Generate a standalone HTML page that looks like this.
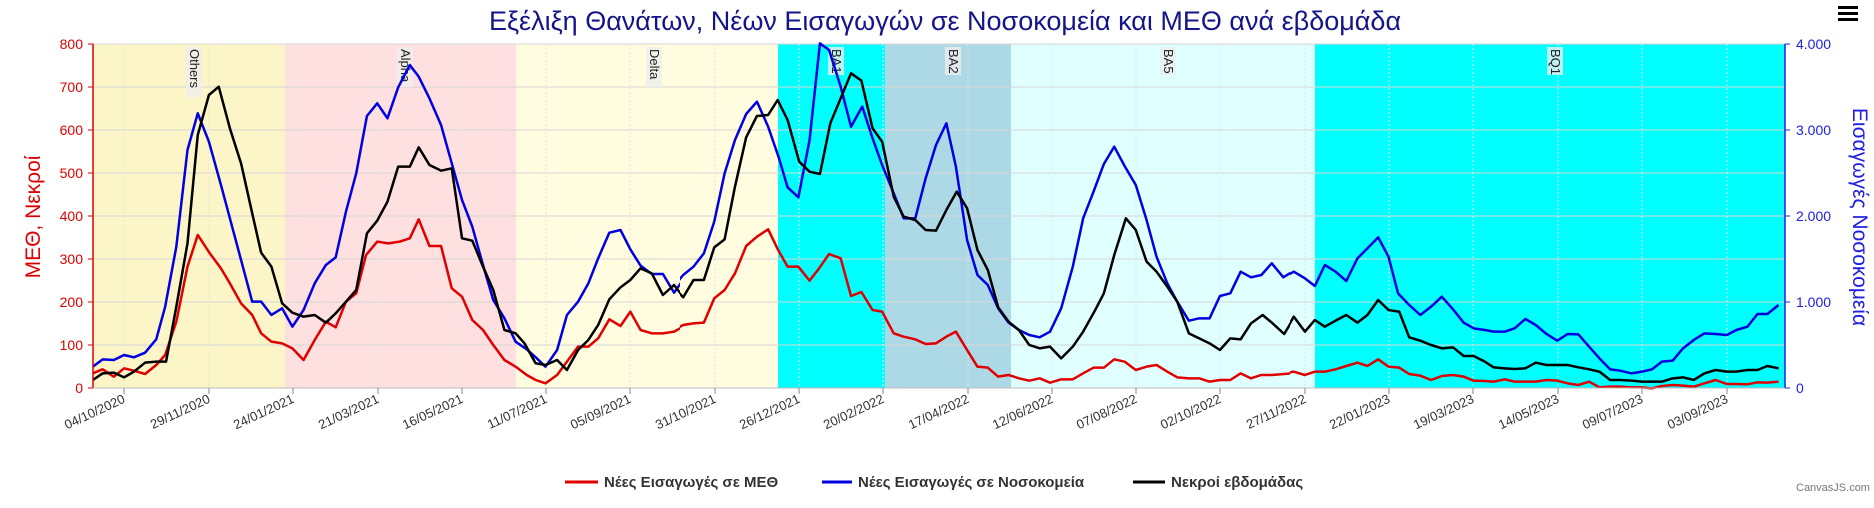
<!DOCTYPE html>
<html><head><meta charset="utf-8"><style>
body{margin:0;background:#fff;width:1874px;height:503px;overflow:hidden;font-family:"Liberation Sans","DejaVu Sans",sans-serif}
</style></head><body>
<svg width="1874" height="503" xmlns="http://www.w3.org/2000/svg" font-family="Liberation Sans, DejaVu Sans, sans-serif">
<defs>
<clipPath id="c1"><rect x="90" y="30" width="590" height="370"/></clipPath>
<clipPath id="c2"><rect x="680" y="30" width="610" height="370"/></clipPath>
<clipPath id="c3"><rect x="1290" y="30" width="500" height="370"/></clipPath>
</defs>
<text x="945" y="30" text-anchor="middle" font-size="27" fill="#15158a">Εξέλιξη Θανάτων, Νέων Εισαγωγών σε Νοσοκομεία και ΜΕΘ ανά εβδομάδα</text>
<g fill="#000"><rect x="1838" y="6" width="20" height="3"/><rect x="1838" y="12" width="20" height="3"/><rect x="1838" y="18" width="20" height="3"/></g>
<!-- bands -->
<rect x="93" y="44" width="192" height="344" fill="#fcf5c8"/>
<rect x="285" y="44" width="231" height="344" fill="#ffe0e0"/>
<rect x="516" y="44" width="262" height="344" fill="#fffce0"/>
<rect x="778" y="44" width="107" height="344" fill="#00ffff"/>
<rect x="885" y="44" width="126" height="344" fill="#add8e6"/>
<rect x="1011" y="44" width="304" height="344" fill="#e0ffff"/>
<rect x="1315" y="44" width="470" height="344" fill="#00ffff"/>
<!-- grid -->
<g stroke="#d6d6d6" stroke-width="1">
<line x1="93" x2="1785" y1="44" y2="44"/><line x1="93" x2="1785" y1="87" y2="87"/><line x1="93" x2="1785" y1="130" y2="130"/><line x1="93" x2="1785" y1="173" y2="173"/><line x1="93" x2="1785" y1="216" y2="216"/><line x1="93" x2="1785" y1="259" y2="259"/><line x1="93" x2="1785" y1="302" y2="302"/><line x1="93" x2="1785" y1="345" y2="345"/>
</g>
<g stroke="#e4e4e4" stroke-width="1" stroke-dasharray="2,2">
<line x1="124" x2="124" y1="44" y2="388"/><line x1="209" x2="209" y1="44" y2="388"/><line x1="293" x2="293" y1="44" y2="388"/><line x1="378" x2="378" y1="44" y2="388"/><line x1="462" x2="462" y1="44" y2="388"/><line x1="546" x2="546" y1="44" y2="388"/><line x1="630" x2="630" y1="44" y2="388"/><line x1="715" x2="715" y1="44" y2="388"/><line x1="799" x2="799" y1="44" y2="388"/><line x1="883" x2="883" y1="44" y2="388"/><line x1="968" x2="968" y1="44" y2="388"/><line x1="1052" x2="1052" y1="44" y2="388"/><line x1="1136" x2="1136" y1="44" y2="388"/><line x1="1220" x2="1220" y1="44" y2="388"/><line x1="1305" x2="1305" y1="44" y2="388"/><line x1="1389" x2="1389" y1="44" y2="388"/><line x1="1473" x2="1473" y1="44" y2="388"/><line x1="1558" x2="1558" y1="44" y2="388"/><line x1="1642" x2="1642" y1="44" y2="388"/><line x1="1727" x2="1727" y1="44" y2="388"/>
</g>
<!-- band labels -->
<g font-size="13" fill="#222">
<g transform="translate(190,48) rotate(90)"><rect x="-1" y="-12" width="50" height="16" fill="#eee" opacity="0.8"/><text x="1" y="0">Others</text></g>
<g transform="translate(401,48) rotate(90)"><rect x="-1" y="-12" width="40" height="16" fill="#eee" opacity="0.8"/><text x="1" y="0">Alpha</text></g>
<g transform="translate(650,48) rotate(90)"><rect x="-1" y="-12" width="40" height="16" fill="#eee" opacity="0.8"/><text x="1" y="0">Delta</text></g>
<g transform="translate(832,48) rotate(90)"><rect x="-1" y="-12" width="28" height="16" fill="#eee" opacity="0.8"/><text x="1" y="0">BA1</text></g>
<g transform="translate(949,48) rotate(90)"><rect x="-1" y="-12" width="28" height="16" fill="#eee" opacity="0.8"/><text x="1" y="0">BA2</text></g>
<g transform="translate(1164,48) rotate(90)"><rect x="-1" y="-12" width="28" height="16" fill="#eee" opacity="0.8"/><text x="1" y="0">BA5</text></g>
<g transform="translate(1551,48) rotate(90)"><rect x="-1" y="-12" width="28" height="16" fill="#eee" opacity="0.8"/><text x="1" y="0">BQ1</text></g>
</g>
<!-- series -->
<g fill="none" stroke-width="2.5" stroke-linejoin="round">
<g clip-path="url(#c1)"><g transform="scale(0.4464,0.33333)">
<polyline vector-effect="non-scaling-stroke" stroke="#e00000" points="208,1120 230,1108 255,1130 278,1105 300,1112 325,1122 350,1095 370,1065 395,965 420,800 443,705 470,760 495,805 515,850 540,910 565,945 585,1000 608,1025 632,1030 655,1045 680,1080 705,1020 730,965 752,982 775,905 798,880 820,765 845,725 870,730 895,725 918,715 938,658 962,738 988,738 1012,865 1035,890 1058,960 1082,990 1105,1035 1130,1080 1155,1100 1180,1125 1200,1140 1222,1150 1248,1125 1270,1085 1295,1040 1318,1040 1340,1015 1365,958 1390,978 1412,935 1435,990 1460,1000 1485,1000 1510,995 1530,980 1568,970"/>
<polyline vector-effect="non-scaling-stroke" stroke="#0000e0" points="208,1100 230,1078 255,1080 278,1065 300,1072 325,1058 350,1018 370,920 395,740 420,450 443,340 468,425 495,555 520,680 545,805 565,905 585,905 608,945 632,925 655,980 680,930 705,850 730,795 752,772 775,635 798,520 822,348 845,310 868,355 892,262 918,195 938,230 962,295 988,375 1012,490 1035,600 1058,680 1082,795 1105,900 1130,955 1155,1025 1180,1048 1200,1072 1222,1100 1248,1050 1270,945 1295,905 1318,850 1340,775 1365,698 1390,690 1412,748 1435,797 1460,822 1485,822 1510,878 1530,840 1568,768"/>
<polyline vector-effect="non-scaling-stroke" stroke="#000" points="208,1140 230,1120 255,1118 278,1132 300,1115 325,1088 350,1085 372,1085 395,920 420,730 443,405 468,285 490,260 515,385 540,490 565,640 585,758 608,800 632,910 655,938 680,950 705,945 730,968 752,940 775,905 798,870 822,700 845,662 868,605 892,500 918,500 938,442 962,495 988,512 1012,505 1035,715 1058,722 1082,800 1105,870 1130,990 1155,1000 1175,1030 1200,1090 1222,1095 1248,1080 1270,1110 1295,1050 1318,1020 1340,975 1365,898 1390,862 1412,840 1435,805 1460,820 1485,885 1510,855 1530,890 1568,840"/>
</g></g>
<g clip-path="url(#c2)"><g transform="translate(650,0) scale(0.4145,0.33333)">
<polyline vector-effect="non-scaling-stroke" stroke="#e00000" points="0,1000 25,1000 50,995 80,975 105,970 130,968 155,895 180,870 205,820 232,738 258,710 285,688 310,752 332,800 358,800 385,842 408,805 432,762 460,775 485,888 510,876 537,930 560,935 588,1000 612,1010 640,1018 665,1032 690,1030 715,1010 738,995 765,1050 790,1100 815,1103 840,1130 865,1125 890,1135 915,1142 940,1135 965,1148 992,1138 1020,1138 1045,1120 1070,1103 1095,1103 1120,1078 1145,1085 1172,1110 1198,1100 1222,1095 1248,1115 1272,1132 1300,1135 1325,1135 1350,1145 1375,1140 1400,1140 1425,1120 1450,1135 1475,1125 1500,1125 1530,1122 1568,1118"/>
<polyline vector-effect="non-scaling-stroke" stroke="#0000e0" points="0,820 25,820 55,862 80,825 105,800 130,760 155,665 180,520 205,420 232,342 258,305 285,380 310,470 332,562 358,592 385,420 410,130 432,150 460,260 485,380 512,320 537,415 560,495 588,580 612,655 640,655 665,535 690,435 715,370 738,500 765,720 790,825 815,855 840,925 865,968 890,990 915,1005 940,1012 965,995 992,925 1020,800 1045,655 1070,575 1095,492 1120,440 1145,498 1172,555 1198,660 1222,770 1248,850 1272,905 1300,962 1325,955 1350,955 1375,888 1400,880 1425,815 1450,832 1475,825 1500,790 1528,832 1550,815 1568,825"/>
<polyline vector-effect="non-scaling-stroke" stroke="#000" points="0,825 28,885 55,858 80,892 105,840 130,840 155,742 180,718 205,560 232,412 258,348 285,345 308,300 332,360 360,485 385,515 410,522 435,370 460,295 485,220 510,242 537,385 560,425 588,590 612,650 640,660 665,690 690,692 715,630 740,575 765,625 790,750 815,810 840,922 865,965 890,990 915,1035 940,1045 965,1040 992,1075 1020,1040 1045,995 1072,935 1095,880 1120,765 1148,655 1172,690 1198,785 1222,815 1248,860 1272,905 1300,1000 1325,1015 1350,1030 1375,1050 1400,1015 1425,1018 1450,970 1478,945 1502,970 1530,1002 1555,950 1568,965"/>
</g></g>
<g clip-path="url(#c3)"><g transform="translate(1250,0) scale(0.398,0.33333)">
<polyline vector-effect="non-scaling-stroke" stroke="#e00000" points="0,1130 30,1122 58,1122 85,1120 110,1115 138,1125 163,1115 188,1115 215,1108 242,1098 270,1088 295,1098 322,1078 348,1100 375,1103 400,1122 428,1127 455,1140 482,1128 510,1125 537,1130 562,1142 590,1143 612,1145 640,1138 665,1145 692,1145 718,1145 745,1140 772,1142 798,1150 825,1155 852,1145 878,1162 905,1160 930,1160 958,1162 985,1162 1010,1165 1035,1158 1062,1155 1088,1157 1115,1160 1142,1150 1170,1140 1198,1152 1222,1152 1250,1153 1275,1147 1300,1148 1328,1145"/>
<polyline vector-effect="non-scaling-stroke" stroke="#0000e0" points="0,828 30,822 55,790 85,832 110,815 138,835 163,858 188,795 215,815 242,843 270,775 295,745 322,712 348,770 372,880 400,915 428,945 455,920 482,890 510,928 537,968 562,985 590,990 612,995 640,995 665,985 692,957 718,975 745,1002 772,1022 798,1002 825,1003 852,1040 878,1075 905,1108 930,1112 958,1120 985,1115 1010,1108 1035,1085 1062,1082 1088,1045 1115,1020 1142,1000 1170,1002 1198,1005 1222,990 1250,980 1275,942 1300,942 1328,915"/>
<polyline vector-effect="non-scaling-stroke" stroke="#000" points="0,980 30,948 58,975 85,1002 110,950 138,995 163,960 188,980 215,962 242,945 270,968 295,945 322,900 348,930 375,935 400,1012 428,1022 455,1035 482,1045 510,1042 537,1068 562,1068 590,1085 612,1102 640,1105 665,1107 692,1105 718,1088 745,1095 772,1095 798,1095 825,1102 852,1108 878,1115 905,1140 930,1140 958,1142 985,1145 1010,1145 1035,1145 1062,1135 1088,1132 1115,1140 1142,1120 1170,1110 1198,1115 1222,1115 1250,1110 1275,1110 1300,1098 1328,1105"/>
</g></g>
</g>
<!-- axes -->
<line x1="93" y1="44" x2="93" y2="388" stroke="#e00000" stroke-width="1.5"/>
<line x1="1785" y1="44" x2="1785" y2="388" stroke="#2020e0" stroke-width="1.5"/>
<line x1="93" y1="388" x2="1785" y2="388" stroke="#bbb" stroke-width="1"/>
<g stroke="#e00000"><line x1="88" x2="93" y1="44" y2="44"/><line x1="88" x2="93" y1="87" y2="87"/><line x1="88" x2="93" y1="130" y2="130"/><line x1="88" x2="93" y1="173" y2="173"/><line x1="88" x2="93" y1="216" y2="216"/><line x1="88" x2="93" y1="259" y2="259"/><line x1="88" x2="93" y1="302" y2="302"/><line x1="88" x2="93" y1="345" y2="345"/><line x1="88" x2="93" y1="388" y2="388"/></g>
<g font-size="14" fill="#e00000" text-anchor="end">
<text x="83" y="49">800</text><text x="83" y="92">700</text><text x="83" y="135">600</text><text x="83" y="178">500</text><text x="83" y="221">400</text><text x="83" y="264">300</text><text x="83" y="307">200</text><text x="83" y="350">100</text><text x="83" y="393">0</text>
</g>
<g stroke="#2020e0"><line x1="1785" x2="1790" y1="44" y2="44"/><line x1="1785" x2="1790" y1="130" y2="130"/><line x1="1785" x2="1790" y1="216" y2="216"/><line x1="1785" x2="1790" y1="302" y2="302"/><line x1="1785" x2="1790" y1="388" y2="388"/></g>
<g font-size="14" fill="#2020e0">
<text x="1796" y="49">4.000</text><text x="1796" y="135">3.000</text><text x="1796" y="221">2.000</text><text x="1796" y="307">1.000</text><text x="1796" y="393">0</text>
</g>
<text transform="translate(40,217) rotate(-90)" text-anchor="middle" font-size="21" fill="#e00000">ΜΕΘ, Νεκροί</text>
<text transform="translate(1853,217) rotate(90)" text-anchor="middle" font-size="21" fill="#2020e0">Εισαγωγές Νοσοκομεία</text>
<!-- x ticks -->
<g stroke="#888"><line x1="124" x2="124" y1="388" y2="394"/><line x1="209" x2="209" y1="388" y2="394"/><line x1="293" x2="293" y1="388" y2="394"/><line x1="378" x2="378" y1="388" y2="394"/><line x1="462" x2="462" y1="388" y2="394"/><line x1="546" x2="546" y1="388" y2="394"/><line x1="630" x2="630" y1="388" y2="394"/><line x1="715" x2="715" y1="388" y2="394"/><line x1="799" x2="799" y1="388" y2="394"/><line x1="883" x2="883" y1="388" y2="394"/><line x1="968" x2="968" y1="388" y2="394"/><line x1="1052" x2="1052" y1="388" y2="394"/><line x1="1136" x2="1136" y1="388" y2="394"/><line x1="1220" x2="1220" y1="388" y2="394"/><line x1="1305" x2="1305" y1="388" y2="394"/><line x1="1389" x2="1389" y1="388" y2="394"/><line x1="1473" x2="1473" y1="388" y2="394"/><line x1="1558" x2="1558" y1="388" y2="394"/><line x1="1642" x2="1642" y1="388" y2="394"/><line x1="1727" x2="1727" y1="388" y2="394"/></g>
<g font-size="13" fill="#333" text-anchor="end">
<text transform="translate(126,402) rotate(-25)">04/10/2020</text>
<text transform="translate(211,402) rotate(-25)">29/11/2020</text>
<text transform="translate(295,402) rotate(-25)">24/01/2021</text>
<text transform="translate(380,402) rotate(-25)">21/03/2021</text>
<text transform="translate(464,402) rotate(-25)">16/05/2021</text>
<text transform="translate(548,402) rotate(-25)">11/07/2021</text>
<text transform="translate(632,402) rotate(-25)">05/09/2021</text>
<text transform="translate(717,402) rotate(-25)">31/10/2021</text>
<text transform="translate(801,402) rotate(-25)">26/12/2021</text>
<text transform="translate(885,402) rotate(-25)">20/02/2022</text>
<text transform="translate(970,402) rotate(-25)">17/04/2022</text>
<text transform="translate(1054,402) rotate(-25)">12/06/2022</text>
<text transform="translate(1138,402) rotate(-25)">07/08/2022</text>
<text transform="translate(1222,402) rotate(-25)">02/10/2022</text>
<text transform="translate(1307,402) rotate(-25)">27/11/2022</text>
<text transform="translate(1391,402) rotate(-25)">22/01/2023</text>
<text transform="translate(1475,402) rotate(-25)">19/03/2023</text>
<text transform="translate(1560,402) rotate(-25)">14/05/2023</text>
<text transform="translate(1644,402) rotate(-25)">09/07/2023</text>
<text transform="translate(1729,402) rotate(-25)">03/09/2023</text>
</g>
<!-- legend -->
<g font-size="15" font-weight="bold" fill="#333">
<line x1="565" x2="598" y1="482" y2="482" stroke="#e00000" stroke-width="3"/><text x="604" y="487">Νέες Εισαγωγές σε ΜΕΘ</text>
<line x1="822" x2="852" y1="482" y2="482" stroke="#0000e0" stroke-width="3"/><text x="858" y="487">Νέες Εισαγωγές σε Νοσοκομεία</text>
<line x1="1133" x2="1165" y1="482" y2="482" stroke="#000" stroke-width="3"/><text x="1171" y="487">Νεκροί εβδομάδας</text>
</g>
<text x="1796" y="491" font-size="11" fill="#777">CanvasJS.com</text>
</svg>
</body></html>
